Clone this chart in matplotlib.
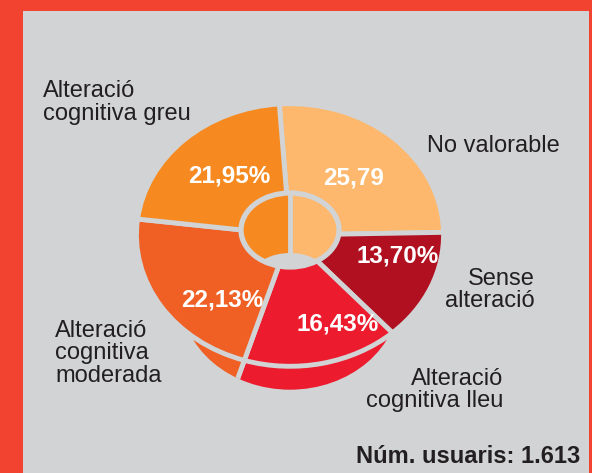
import matplotlib.pyplot as plt
from matplotlib.patches import Ellipse, Rectangle

plt.rcParams['font.family'] = ['Liberation Sans', 'DejaVu Sans']

# data (clockwise from the top)
categories = ['No valorable', 'Sense alteració', 'Alteració cognitiva lleu',
              'Alteració cognitiva moderada', 'Alteració cognitiva greu']
values = [25.79, 13.70, 16.43, 22.13, 21.95]
value_labels = ['25,79', '13,70%', '16,43%', '22,13%', '21,95%']
total_label = 'Núm. usuaris: 1.613'

colors = ['#FDB86D', '#B01020', '#EC1C2E', '#F05F24', '#F68A20']
BG = '#D1D3D4'
RED = '#F24330'
INK = '#231F20'

W, H = 592, 473
CX, CY = 290, 235    # pie centre in px
RX, RY = 152, 130    # px per data unit (gives the tilted ellipse)


def dx(px):
    return (px - CX) / RX


def dy(py):
    return (CY - py) / RY


fig = plt.figure(figsize=(W / 100, H / 100), dpi=100, facecolor=RED)
fig.add_artist(Rectangle((23 / W, 0), 566 / W, 462 / H, transform=fig.transFigure,
                         facecolor=BG, edgecolor='none', zorder=0))
ax = fig.add_axes([0, 0, 1, 1])
ax.set_facecolor('none')

wedge_style = dict(edgecolor=BG, linewidth=3.5)
# side of the disc: a bigger concentric pie clipped to the lower ellipse
side, _ = ax.pie(values, colors=colors, startangle=94, counterclock=False,
                 radius=1.3, wedgeprops=wedge_style)
side_clip = Ellipse((0, -0.47), 1.44, 1.44, transform=ax.transData)
for w in side:
    w.set_clip_on(True)
    w.set_clip_path(side_clip)
# top face
ax.pie(values, colors=colors, startangle=94, counterclock=False, radius=1.01,
       wedgeprops=wedge_style)
ax.set_aspect('auto')
ax.set_xlim(dx(0), dx(W))
ax.set_ylim(dy(H), dy(0))
ax.axis('off')

# centre hole
hc = (0, dy(230))
hw, hh = 2 * 49 / RX, 2 * 37 / RY
left = Ellipse(hc, hw, hh, facecolor=colors[4], edgecolor='none', zorder=3)
right = Ellipse(hc, hw, hh, facecolor=colors[0], edgecolor='none', zorder=3)
ax.add_patch(left)
ax.add_patch(right)
right.set_clip_path(Rectangle((0, -3), 3, 6, transform=ax.transData))
floor = Ellipse((0, dy(273)), 70 / RX, 40 / RY, facecolor=BG, edgecolor='none', zorder=4)
ax.add_patch(floor)
floor.set_clip_path(left)
ax.plot([0, 0], [hc[1] + hh / 2, dy(255)], color=BG, lw=3.5, zorder=5,
        solid_capstyle='butt')
ax.add_patch(Ellipse(hc, hw, hh, facecolor='none', edgecolor=BG, lw=3.8, zorder=6))

# values on the slices
value_pos = [(354, 185), (398, 263), (338, 330), (222, 307), (229, 183)]
for lab, (px, py) in zip(value_labels, value_pos):
    ax.text(dx(px), dy(py), lab, ha='center', va='baseline', color='white',
            fontsize=17.5, fontweight='bold', zorder=7)


def outer_label(lines, x, y0, ha, step=23):
    for i, line in enumerate(lines):
        fig.text(x / W, 1 - (y0 + i * step) / H, line, ha=ha, va='baseline',
                 fontsize=17, color=INK)


outer_label(['No valorable'], 427, 152, 'left')
outer_label(['Sense', 'alteració'], 535, 285, 'right', 22)
outer_label(['Alteració', 'cognitiva lleu'], 503, 385, 'right', 22)
outer_label(['Alteració', 'cognitiva', 'moderada'], 55, 337, 'left', 22.5)
outer_label(['Alteració', 'cognitiva greu'], 43, 97, 'left')

fig.text(580 / W, 1 - 463 / H, total_label, ha='right', va='baseline',
         fontsize=17, fontweight='bold', color=INK)

plt.savefig('out.png', dpi=100, facecolor=RED)
